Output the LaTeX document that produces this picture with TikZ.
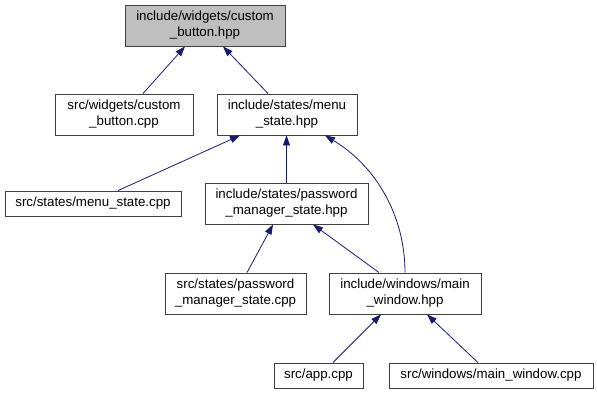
\documentclass[tikz,border=0pt]{standalone}
\usepackage{fontspec}
\setmainfont{Liberation Sans}
\usetikzlibrary{arrows.meta}
\definecolor{edgeblue}{HTML}{191970}
\definecolor{boxline}{HTML}{404040}
\definecolor{hilite}{HTML}{BFBFBF}
\begin{document}
\begin{tikzpicture}[x=1pt,y=-1pt,
  file/.style={draw=boxline,line width=0.9pt,fill=white,inner sep=0pt,
    align=center,font=\fontsize{13.3}{16}\selectfont,minimum height=41pt},
  single/.style={file,minimum height=25pt},
  dep/.style={draw=edgeblue,line width=0.8pt,
    -{Triangle[length=10pt,width=7pt]}}]
\useasboundingbox (0,0) rectangle (597,395);
% headers and sources
\node[file,fill=hilite,minimum width=160pt] (cbh) at (205,25.5) {include/widgets/custom\\\_button.hpp};
\node[file,minimum width=138pt] (cbc) at (124,114.5) {src/widgets/custom\\\_button.cpp};
\node[file,minimum width=140pt] (msh) at (287,114.5) {include/states/menu\\\_state.hpp};
\node[single,minimum width=176pt] (msc) at (93,203.5) {src/states/menu\_state.cpp};
\node[file,minimum width=163pt] (pmh) at (286.5,203.5) {include/states/password\\\_manager\_state.hpp};
\node[file,minimum width=141pt] (pmc) at (235.5,293.5) {src/states/password\\\_manager\_state.cpp};
\node[file,minimum width=152pt] (mwh) at (405,293.5) {include/windows/main\\\_window.hpp};
\node[single,minimum width=89pt] (app) at (318.5,375.5) {src/app.cpp};
\node[single,minimum width=204pt] (mwc) at (491,375.5) {src/windows/main\_window.cpp};
% include relations
\draw[dep] ([xshift=19pt]cbc.north) -- ([xshift=-20pt]cbh.south);
\draw[dep] ([xshift=-19pt]msh.north) -- ([xshift=18pt]cbh.south);
\draw[dep] ([xshift=25pt]msc.north) -- ([xshift=-47pt]msh.south);
\draw[dep] (pmh.north) -- (pmh.north |- msh.south);
\draw[dep] (mwh.north) .. controls ([yshift=58pt]mwh.north) and ([xshift=88pt,yshift=-30pt]msh.south) .. ([xshift=38pt]msh.south);
\draw[dep] ([xshift=11.5pt]pmc.north) -- ([xshift=-13.5pt]pmh.south);
\draw[dep] ([xshift=-26pt]mwh.north) -- ([xshift=26.5pt]pmh.south);
\draw[dep] ([xshift=14.5pt]app.north) -- ([xshift=-24pt]mwh.south);
\draw[dep] ([xshift=-13pt]mwc.north) -- ([xshift=22pt]mwh.south);
\end{tikzpicture}
\end{document}
